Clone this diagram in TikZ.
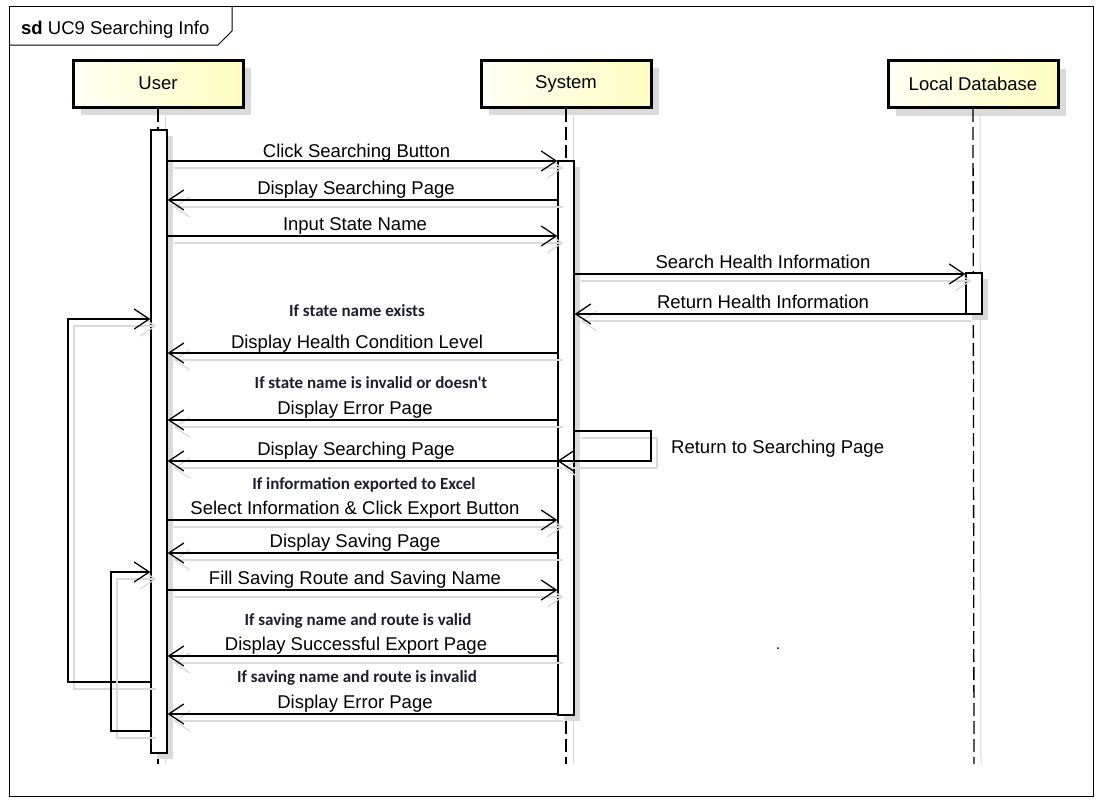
\documentclass[tikz,border=0pt]{standalone}
\usepackage{fontspec}
\setmainfont{Liberation Sans}
\newfontfamily\condfont{Carlito}
\usetikzlibrary{arrows.meta,shadows}
\definecolor{shad}{HTML}{DADADA}
\definecolor{headl}{HTML}{FFFFF4}
\definecolor{headr}{HTML}{FDFDC2}
\definecolor{condc}{HTML}{1E1E30}
\begin{document}
\begin{tikzpicture}[x=1pt,y=-1pt,
  lbl/.style={font=\fontsize{18.5}{20}\selectfont, anchor=base, inner sep=0pt},
  cond/.style={font=\condfont\bfseries\fontsize{17}{18}\selectfont, text=condc, anchor=base, inner sep=0pt},
  tip/.style={-{Straight Barb[length=15pt,width=20pt,line width=1.3pt]}},
  msg/.style={line width=1.3pt, tip,
    preaction={draw=shad, line width=1.3pt, transform canvas={xshift=6pt,yshift=-7pt}}},
  head/.style={draw, line width=3pt, minimum width=170pt, minimum height=47pt, inner sep=0pt,
    left color=headl, right color=headr, font=\fontsize{18.5}{20}\selectfont,
    drop shadow={shadow xshift=8pt, shadow yshift=-8pt, fill=shad, opacity=1}},
  bar/.style={draw, fill=white, line width=1.3pt, minimum width=16pt, inner sep=0pt,
    drop shadow={shadow xshift=6pt, shadow yshift=-6pt, fill=shad, opacity=1}},
  life/.style={line width=1.3pt, dash pattern=on 13pt off 5pt},
  lifesh/.style={draw=shad, line width=1pt}
]
\useasboundingbox (0,0) rectangle (1101,804);
\fill[white] (0,0) rectangle (1101,804);
% frame
\draw[line width=1pt] (9,6) rectangle (1093,796);
\draw[line width=1pt] (9,45) -- (218,45) -- (232,31) -- (232,6);
\node[anchor=base west, inner sep=0pt, font=\fontsize{18.5}{20}\selectfont] (title) at (21,34) {\textbf{sd} UC9 Searching Info};
% heads
\node[head] (u) at (158,83.5) {User};
\node[head] (s) at (566,83.5) {System};
\node[head] (d) at (973,84) {Local Database};
% lifelines
\coordinate (uend) at (158,764);
\coordinate (send) at (566,764);
\coordinate (dend) at (974,764);
\draw[lifesh] ([xshift=7pt]u.south) -- ([xshift=7pt]uend);
\draw[lifesh] ([xshift=7pt]s.south) -- ([xshift=7pt]send);
\draw[lifesh] ([xshift=7pt]d.south) -- ([xshift=7pt]dend);
\draw[life] (u.south) -- (uend);
\draw[life] (s.south) -- (send);
\draw[life] (d.south) -- (dend);
% activation bars
\node[bar, minimum height=623pt] (ua) at (159,441.5) {};
\node[bar, minimum height=554pt] (sa) at (566,438) {};
\node[bar, minimum height=41pt] (da) at (974,293.5) {};
% messages
\draw[msg] (ua.east |- 0,161) -- (sa.west |- 0,161);
\node[lbl] (m1) at (356.5,157) {Click Searching Button};
\draw[msg] (sa.west |- 0,200) -- (ua.east |- 0,200);
\node[lbl] (m2) at (356,194) {Display Searching Page};
\draw[msg] (ua.east |- 0,236) -- (sa.west |- 0,236);
\node[lbl] (m3) at (355,230) {Input State Name};
\draw[msg] (sa.east |- 0,274) -- (da.west |- 0,274);
\node[lbl] (m4) at (763,268) {Search Health Information};
\draw[msg] (da.west |- 0,314) -- (sa.east |- 0,314);
\node[lbl] (m5) at (763,308) {Return Health Information};
\node[cond] (c1) at (357,316) {If state name exists};
\draw[msg] (sa.west |- 0,353) -- (ua.east |- 0,353);
\node[lbl] (m6) at (357,348) {Display Health Condition Level};
\node[cond] (c2) at (371,388) {If state name is invalid or doesn't};
\draw[msg] (sa.west |- 0,420) -- (ua.east |- 0,420);
\node[lbl] (m7) at (355,414) {Display Error Page};
% self message
\coordinate (r1) at (651,431);
\coordinate (r2) at (651,461);
\draw[msg] (sa.east |- r1) -- (r1) -- (r2) -- (sa.west |- r2);
\node[lbl, anchor=base west] (m8) at (671,453) {Return to Searching Page};
\draw[msg] (sa.west |- 0,461) -- (ua.east |- 0,461);
\node[lbl] (m9) at (356,455) {Display Searching Page};
\node[cond] (c3) at (364,489) {If information exported to Excel};
\draw[msg] (ua.east |- 0,520) -- (sa.west |- 0,520);
\node[lbl] (m10) at (355,514) {Select Information \& Click Export Button};
\draw[msg] (sa.west |- 0,553) -- (ua.east |- 0,553);
\node[lbl] (m11) at (355,547) {Display Saving Page};
\draw[msg] (ua.east |- 0,590) -- (sa.west |- 0,590);
\node[lbl] (m12) at (355,584) {Fill Saving Route and Saving Name};
\node[cond] (c4) at (358,625) {If saving name and route is valid};
\draw[msg] (sa.west |- 0,656) -- (ua.east |- 0,656);
\node[lbl] (m13) at (356,650) {Display Successful Export Page};
\node[cond] (c5) at (357,682) {If saving name and route is invalid};
\draw[msg] (sa.west |- 0,714) -- (ua.east |- 0,714);
\node[lbl] (m14) at (355,708) {Display Error Page};
% loops
\coordinate (l1a) at (68,682);
\coordinate (l1b) at (68,319);
\draw[msg] (ua.west |- l1a) -- (l1a) -- (l1b) -- (ua.west |- l1b);
\coordinate (l2a) at (111,731);
\coordinate (l2b) at (111,572);
\draw[msg] (ua.west |- l2a) -- (l2a) -- (l2b) -- (ua.west |- l2b);
% stray dot
\fill (778,648) circle (1pt);
\end{tikzpicture}
\end{document}
